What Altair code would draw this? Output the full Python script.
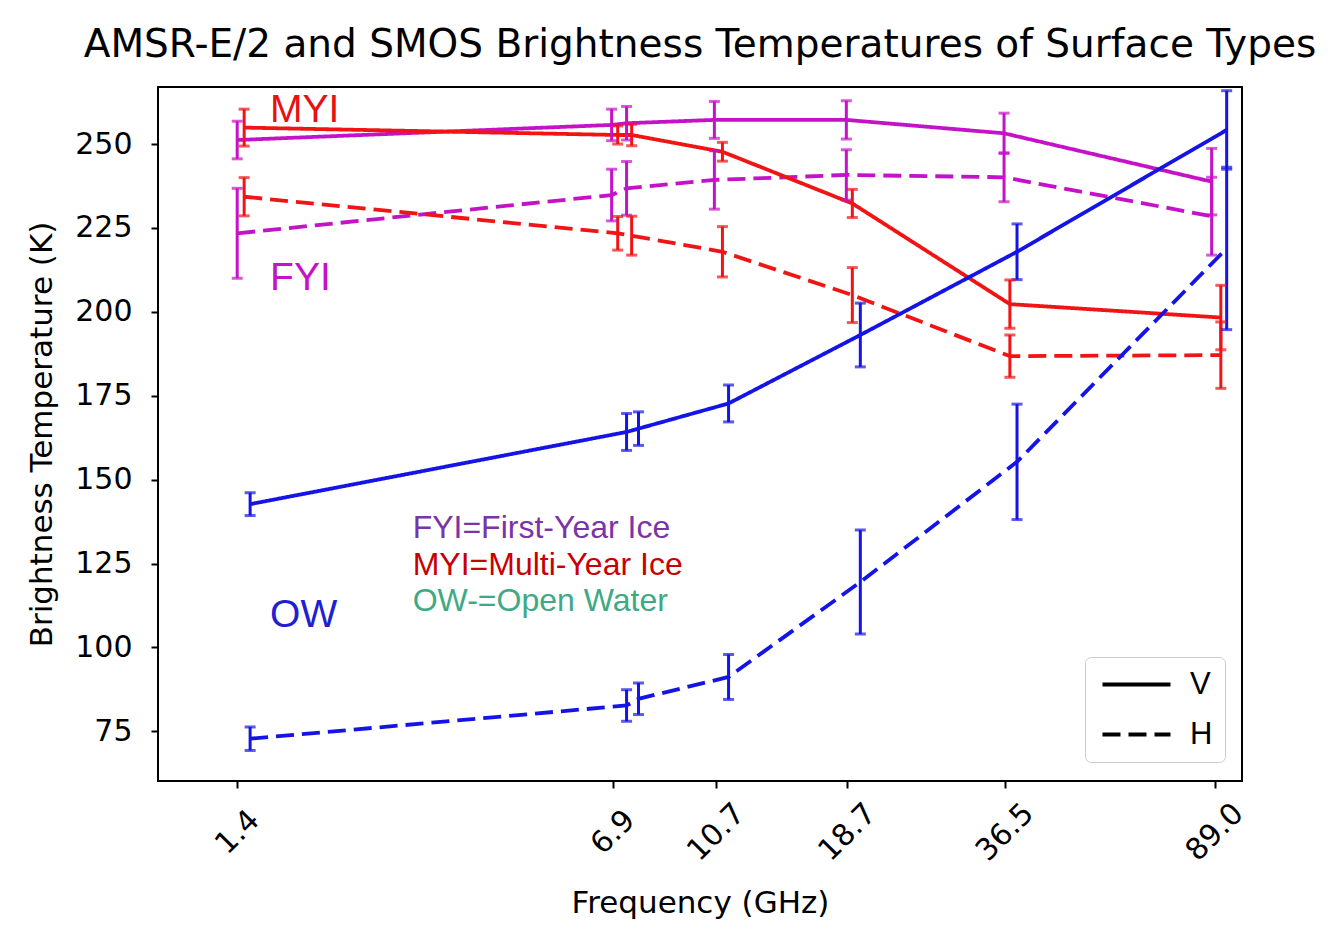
import altair as alt
import pandas as pd

# ---------------- data ----------------
tick_freqs = [1.4, 6.9, 10.7, 18.7, 36.5, 89.0]

# frequencies at which each surface type was plotted (slightly offset per type)
fyi_freq = [1.40, 6.87, 7.32, 10.63, 18.62, 36.39, 87.9]
myi_freq = [1.442, 7.05, 7.48, 11.0, 19.1, 37.3, 91.4]
ow_freq = [1.479, 7.32, 7.70, 11.29, 19.76, 38.45, 93.7]

fyi_v = [251.2, 255.7, 256.2, 257.2, 257.2, 253.2, 238.8]
fyi_v_err = [5.6, 4.7, 5.0, 5.5, 5.7, 6.0, 9.9]
fyi_h = [223.4, 234.8, 236.8, 239.3, 240.8, 240.1, 228.5]
fyi_h_err = [13.4, 7.7, 8.0, 8.7, 7.5, 7.3, 11.6]

myi_v = [254.9, 252.7, 252.7, 247.7, 232.3, 202.3, 198.3]
myi_v_err = [5.5, 2.7, 3.2, 2.8, 4.2, 7.2, 9.6]
myi_h = [234.3, 223.4, 222.7, 217.9, 205.0, 186.8, 187.1]
myi_h_err = [5.7, 5.0, 5.8, 7.5, 8.2, 6.3, 9.9]

ow_v = [142.7, 164.2, 165.2, 172.7, 193.1, 217.9, 254.2]
ow_v_err = [3.4, 5.5, 5.0, 5.5, 9.5, 8.3, 11.7]
ow_h = [72.8, 82.7, 84.7, 91.2, 119.5, 155.3, 218.9]
ow_h_err = [3.5, 4.7, 4.7, 6.7, 15.5, 17.2, 24.2]

surfaces = ["FYI", "MYI", "OW"]
surface_colors = ["#C512C8", "#F01414", "#1414E6"]
pols = ["V", "H"]

# labels drawn in the plot (text, freq, K)
big_labels = ["MYI", "FYI", "OW"]
big_label_freq = [1.61, 1.61, 1.61]
big_label_tb = [256.7, 206.6, 106.2]
big_label_colors = ["#E81010", "#C512C8", "#2020D0"]

note_labels = ["FYI=First-Year Ice", "MYI=Multi-Year Ice", "OW-=Open Water"]
note_freq = [2.95, 2.95, 2.95]
note_tb = [132.7, 121.7, 110.8]
note_colors = ["#7A34A8", "#C80000", "#3DAA84"]

# ---------------- build tables ----------------
rows = []
series = [
    ("FYI", "V", fyi_freq, fyi_v, fyi_v_err),
    ("FYI", "H", fyi_freq, fyi_h, fyi_h_err),
    ("MYI", "V", myi_freq, myi_v, myi_v_err),
    ("MYI", "H", myi_freq, myi_h, myi_h_err),
    ("OW", "V", ow_freq, ow_v, ow_v_err),
    ("OW", "H", ow_freq, ow_h, ow_h_err),
]
for surf, pol, fr, vals, errs in series:
    for f, v, e in zip(fr, vals, errs):
        rows.append({"surface": surf, "pol": pol, "freq": f, "tb": v,
                     "lo": v - e, "hi": v + e})
df = pd.DataFrame(rows)

big_df = pd.DataFrame({"text": big_labels, "freq": big_label_freq,
                       "tb": big_label_tb, "col": big_label_colors})
note_df = pd.DataFrame({"text": note_labels, "freq": note_freq,
                        "tb": note_tb, "col": note_colors})

# ---------------- scales / axes ----------------
AX_FONT = "DejaVu Sans"
xscale = alt.Scale(type="log", domain=[1, 100], nice=False)
yscale = alt.Scale(domain=[60.2, 267.0], nice=False, zero=False)

xaxis = alt.Axis(values=tick_freqs, format=".1f", labelAngle=-45,
                 labelAlign="center", labelBaseline="middle", labelPadding=44,
                 labelFontSize=30, labelFont=AX_FONT, labelColor="black",
                 labelOverlap=False, labelFlush=False, labelBound=False,
                 tickSize=7, tickWidth=2, tickColor="black", domain=False,
                 grid=False, titleFontSize=31, titleFont=AX_FONT,
                 titleFontWeight="normal", titleColor="black", titlePadding=22)
yaxis = alt.Axis(values=[75, 100, 125, 150, 175, 200, 225, 250],
                 labelFontSize=30, labelFont=AX_FONT, labelColor="black",
                 labelPadding=19, tickSize=7, tickWidth=2, tickColor="black",
                 domain=False, grid=False, titleFontSize=31, titleFont=AX_FONT,
                 titleFontWeight="normal", titleColor="black", titlePadding=16)

XT = "Frequency (GHz)"
YT = "Brightness Temperature (K)"


def X(field="freq"):
    return alt.X(f"{field}:Q", scale=xscale, axis=xaxis, title=XT)


def Y(field):
    return alt.Y(f"{field}:Q", scale=yscale, axis=yaxis, title=YT)


color = alt.Color("surface:N", scale=alt.Scale(domain=surfaces, range=surface_colors),
                  legend=None)

base = alt.Chart(df)

lines = base.mark_line(strokeWidth=3.8, strokeCap="butt").encode(
    x=X(), y=Y("tb"), color=color,
    strokeDash=alt.StrokeDash(
        "pol:N",
        scale=alt.Scale(domain=pols, range=[[1, 0], [18, 8]]),
        legend=alt.Legend(title=None, orient="none", legendX=927, legendY=570,
                          symbolType="M-1,0H5.8", symbolSize=400,
                          symbolStrokeWidth=4, symbolStrokeColor="black",
                          labelFont="Liberation Sans", labelFontSize=31,
                          labelColor="black", labelOffset=62, padding=12,
                          rowPadding=18, fillColor="white",
                          strokeColor="#cccccc", cornerRadius=6)),
    order="freq:Q",
)

rules = base.mark_rule(strokeWidth=3).encode(x=X(), y=Y("lo"), y2="hi:Q", color=color)
caps_lo = base.mark_tick(orient="horizontal", size=11, thickness=3).encode(
    x=X(), y=Y("lo"), color=color)
caps_hi = base.mark_tick(orient="horizontal", size=11, thickness=3).encode(
    x=X(), y=Y("hi"), color=color)

big_text = alt.Chart(big_df).mark_text(
    align="left", baseline="alphabetic", font="Liberation Sans", fontSize=39
).encode(x=X(), y=Y("tb"), text="text:N", color=alt.Color("col:N", scale=None))

note_text = alt.Chart(note_df).mark_text(
    align="left", baseline="alphabetic", font="Liberation Sans", fontSize=32
).encode(x=X(), y=Y("tb"), text="text:N", color=alt.Color("col:N", scale=None))

chart = alt.layer(lines, rules, caps_lo, caps_hi, big_text, note_text).properties(
    width=1084, height=694,
    title=alt.TitleParams(
        "AMSR-E/2 and SMOS Brightness Temperatures of Surface Types",
        font=AX_FONT, fontSize=39, fontWeight="normal", color="black",
        anchor="middle", offset=22),
    autosize=alt.AutoSizeParams(type="none"),
    padding={"left": 150, "top": 79, "right": 90, "bottom": 150},
).configure(background="white").configure_view(stroke="black", strokeWidth=2)

chart.save("out.html", embed_options={"renderer": "svg", "actions": False})
